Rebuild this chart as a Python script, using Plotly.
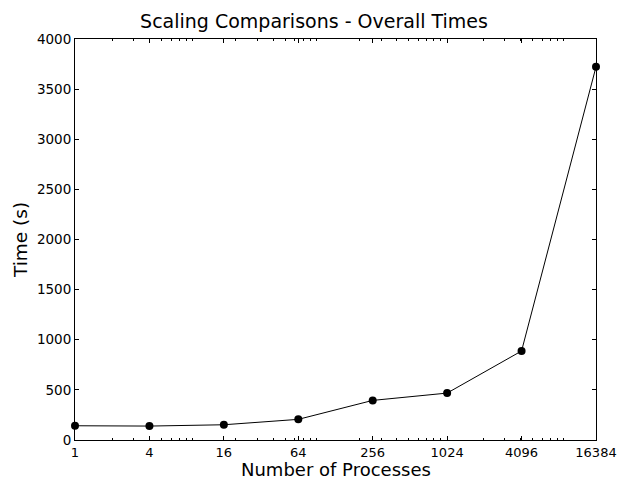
import plotly.graph_objects as go

processes = [1, 4, 16, 64, 256, 1024, 4096, 16384]
times = [142, 139, 152, 206, 395, 468, 888, 3722]
x_tick_labels = ["1", "4", "16", "64", "256", "1024", "4096", "16384"]
y_ticks = [0, 500, 1000, 1500, 2000, 2500, 3000, 3500, 4000]
minor_x = [m * 10 ** k for k in range(0, 5) for m in range(2, 10) if m * 10 ** k < 16384]

fig = go.Figure()
fig.add_trace(go.Scatter(
    x=processes, y=times, mode="lines+markers",
    line=dict(color="black", width=1),
    marker=dict(color="black", size=8),
    cliponaxis=False,
))

font = "DejaVu Sans, sans-serif"
plot_h = 478 - 39 - 38
fig.update_layout(
    width=628, height=478,
    margin=dict(l=75, r=32, t=39, b=38),
    paper_bgcolor="white", plot_bgcolor="white",
    showlegend=False,
    font=dict(family=font, color="black", size=13),
    title=dict(text="Scaling Comparisons - Overall Times", x=0.5, xanchor="center",
               y=1 - 21 / 478, yanchor="middle", font=dict(size=19)),
    annotations=[dict(text="Number of Processes", xref="paper", yref="paper",
                      x=0.5, y=-29 / plot_h, xanchor="center", yanchor="middle",
                      borderpad=0, showarrow=False, font=dict(size=18))],
)
fig.update_xaxes(
    type="log", range=[0, 4.21442], automargin=False,
    tickmode="array", tickvals=processes, ticktext=x_tick_labels,
    ticks="inside", ticklen=4, tickwidth=1, tickcolor="black",
    showline=True, linecolor="black", linewidth=1, mirror="ticks",
    showgrid=False, zeroline=False,
    minor=dict(tickmode="array", tickvals=minor_x, ticks="inside", ticklen=2,
               tickcolor="black", tickwidth=1, showgrid=False),
    tickfont=dict(size=13),
)
fig.update_yaxes(
    range=[0, 4000], automargin=False,
    tickmode="array", tickvals=y_ticks,
    ticks="inside", ticklen=4, tickwidth=1, tickcolor="black",
    showline=True, linecolor="black", linewidth=1, mirror="ticks",
    showgrid=False, zeroline=False,
    title=dict(text="Time (s)", font=dict(size=18.5), standoff=4),
    tickfont=dict(size=13.5),
)
fig.write_html("out.html", config={"displayModeBar": False},
               post_script="document.body.style.margin='0';")
